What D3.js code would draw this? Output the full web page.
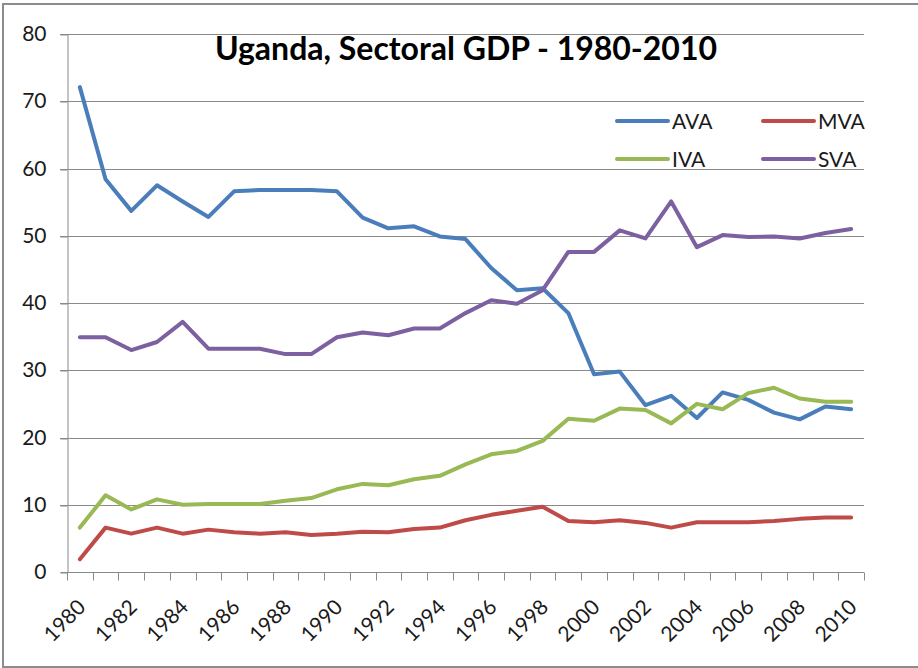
<!DOCTYPE html>
<html>
<head>
<meta charset="utf-8">
<script src="https://cdn.jsdelivr.net/npm/d3@7"></script>
<style>
  body { margin: 0; background: #fff; }
  svg { font-family: Lato, "Open Sans", sans-serif; }
</style>
</head>
<body>
<script>
const width = 918;
const height = 668;

// years on the x axis
const years = d3.range(1980, 2011);

// sector shares of GDP (%)
const ava = [72.1, 58.4, 53.7, 57.5, 55.1, 52.8, 56.6, 56.8, 56.8, 56.8, 56.6, 52.7, 51.1, 51.4, 49.9,
  49.5, 45.2, 41.9, 42.2, 38.5, 29.4, 29.8, 24.8, 26.2, 22.9, 26.7, 25.6, 23.7, 22.7, 24.6, 24.2];
const mva = [1.9, 6.6, 5.7, 6.6, 5.7, 6.3, 5.9, 5.7, 5.9, 5.5, 5.7, 6.0, 5.9, 6.4, 6.6,
  7.7, 8.5, 9.1, 9.7, 7.6, 7.4, 7.7, 7.3, 6.6, 7.4, 7.4, 7.4, 7.6, 7.9, 8.1, 8.1];
const iva = [6.6, 11.4, 9.3, 10.8, 10.0, 10.1, 10.1, 10.1, 10.6, 11.0, 12.3, 13.1, 12.9, 13.8, 14.3,
  16.0, 17.5, 18.0, 19.5, 22.8, 22.5, 24.3, 24.1, 22.1, 25.0, 24.2, 26.6, 27.4, 25.8, 25.3, 25.3];
const sva = [34.9, 34.9, 33.0, 34.2, 37.2, 33.2, 33.2, 33.2, 32.4, 32.4, 34.9, 35.6, 35.2, 36.2, 36.2,
  38.5, 40.4, 39.9, 41.9, 47.6, 47.6, 50.8, 49.6, 55.1, 48.3, 50.1, 49.8, 49.9, 49.6, 50.4, 51.0];

const seriesNames = ["AVA", "MVA", "IVA", "SVA"];
const seriesColors = ["#4A7EBB", "#BE4B48", "#98B954", "#7D60A0"];
const yTicks = [0, 10, 20, 30, 40, 50, 60, 70, 80];

const series = [ava, mva, iva, sva].map((vals, i) => ({
  name: seriesNames[i], color: seriesColors[i], values: vals
}));

const margin = { left: 67, right: 54, top: 34, bottom: 96 };

const x = d3.scaleBand()
  .domain(years)
  .range([margin.left, width - margin.right]);

const y = d3.scaleLinear()
  .domain([0, 80])
  .range([height - margin.bottom, margin.top]);

const svg = d3.select("body")
  .append("svg")
  .attr("width", width)
  .attr("height", height);

// chart frame
svg.append("rect")
  .attr("x", 3).attr("y", 4)
  .attr("width", width + 10).attr("height", height - 5)
  .attr("fill", "#fff")
  .attr("stroke", "#8c8c8c")
  .attr("stroke-width", 2);

// gridlines
svg.append("g")
  .selectAll("line")
  .data(yTicks.filter(d => d > 0))
  .join("line")
  .attr("x1", margin.left - 7)
  .attr("x2", width - margin.right)
  .attr("y1", d => Math.round(y(d)) + 0.5)
  .attr("y2", d => Math.round(y(d)) + 0.5)
  .attr("stroke", "#8a8a8a")
  .attr("stroke-width", 1);

// y axis
const yAxis = svg.append("g")
  .attr("transform", `translate(${margin.left + 0.5},0)`)
  .call(d3.axisLeft(y).tickValues(yTicks).tickSize(7).tickPadding(14));
yAxis.select(".domain").attr("stroke", "#8a8a8a");
yAxis.selectAll(".tick line").attr("stroke", "#8a8a8a")
  .attr("transform", d => `translate(0,${Math.round(y(d)) + 0.5 - y(d)})`);
yAxis.selectAll("text")
  .attr("font-size", 21)
  .attr("fill", "#1a1a1a")
  .attr("font-family", "Lato, sans-serif");

// x axis line and band ticks
const baseY = Math.round(y(0)) + 0.5;
svg.append("line")
  .attr("x1", margin.left).attr("x2", width - margin.right)
  .attr("y1", baseY).attr("y2", baseY)
  .attr("stroke", "#8a8a8a");

const edges = years.map(d => x(d)).concat([x(years[years.length - 1]) + x.bandwidth()]);
svg.append("g")
  .selectAll("line")
  .data(edges)
  .join("line")
  .attr("x1", d => Math.round(d) + 0.5)
  .attr("x2", d => Math.round(d) + 0.5)
  .attr("y1", baseY)
  .attr("y2", baseY + 8)
  .attr("stroke", "#8a8a8a");

// x labels, every other year, rotated
svg.append("g")
  .selectAll("text")
  .data(years.filter(d => d % 2 === 0))
  .join("text")
  .attr("transform", d => `translate(${x(d) + x.bandwidth() / 2 + 7},${baseY + 36}) rotate(-45)`)
  .attr("text-anchor", "end")
  .attr("font-size", 21)
  .attr("fill", "#1a1a1a")
  .text(d => d);

// lines
const line = d3.line()
  .x((d, i) => x(years[i]) + x.bandwidth() / 2)
  .y(d => y(d))
  .curve(d3.curveLinear);

svg.append("g")
  .selectAll("path")
  .data(series)
  .join("path")
  .attr("d", d => line(d.values))
  .attr("fill", "none")
  .attr("stroke", d => d.color)
  .attr("stroke-width", 4)
  .attr("stroke-linejoin", "round")
  .attr("stroke-linecap", "round");

// title
svg.append("text")
  .attr("x", 466)
  .attr("y", 60)
  .attr("text-anchor", "middle")
  .attr("font-size", 32)
  .attr("font-weight", "bold")
  .attr("fill", "#000")
  .text("Uganda, Sectoral GDP - 1980-2010");

// legend
const legendPos = [[617, 121], [763, 121], [617, 159], [763, 159]];
const legend = svg.append("g")
  .selectAll("g")
  .data(series)
  .join("g")
  .attr("transform", (d, i) => `translate(${legendPos[i][0]},${legendPos[i][1]})`);
legend.append("line")
  .attr("x1", 0).attr("x2", 51)
  .attr("stroke", d => d.color)
  .attr("stroke-width", 4)
  .attr("stroke-linecap", "round");
legend.append("text")
  .attr("x", 55)
  .attr("dy", "0.36em")
  .attr("font-size", 21)
  .attr("fill", "#1a1a1a")
  .text(d => d.name);
</script>
</body>
</html>
